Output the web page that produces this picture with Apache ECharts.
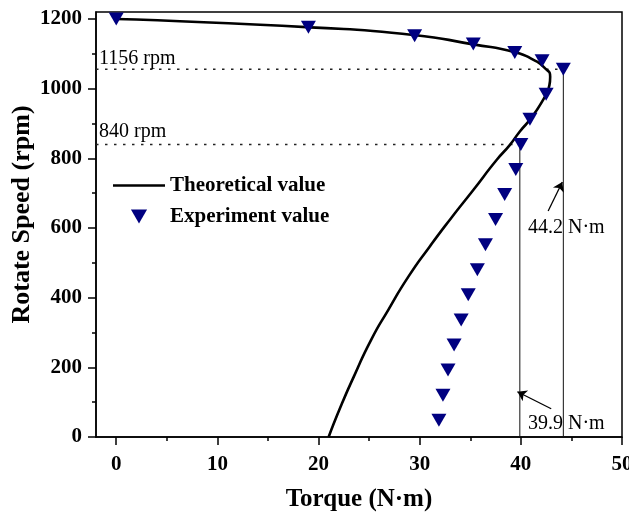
<!DOCTYPE html>
<html>
<head>
<meta charset="utf-8">
<script src="https://cdn.jsdelivr.net/npm/echarts@6/dist/echarts.min.js"></script>
<style>
  html, body { margin: 0; padding: 0; background: #fff; }
  #chart { width: 629px; height: 512px; }
</style>
</head>
<body>
<div id="chart"></div>
<script>
// axis ticks
const xLabels = [0, 10, 20, 30, 40, 50]
const xMinor = [5, 15, 25, 35, 45]
const yLabels = [0, 200, 400, 600, 800, 1000, 1200]
const yMinor = [100, 300, 500, 700, 900, 1100]

// theoretical curve [torque, speed]
const theoryTorque = [0, 19.2, 29.4, 35.3, 39.5, 41.3, 42.3, 42.9, 42.75, 42.2, 41.0, 39.9, 38.9, 37.6, 35.3, 33.1, 31.0, 28.9, 26.9, 25.2, 23.5, 22.2, 21.0]
const theorySpeed = [1200, 1176, 1154, 1127, 1104, 1082, 1061, 1034, 1001, 968, 915, 877, 838, 795, 709, 628, 547, 461, 365, 279, 174, 88, 0]

// experiment points [torque, speed]
const expTorque = [0, 19.0, 29.5, 35.3, 39.4, 42.1, 44.2, 42.5, 40.9, 40.0, 39.5, 38.4, 37.5, 36.5, 35.7, 34.8, 34.1, 33.4, 32.8, 32.3, 31.9]
const expSpeed = [1200, 1176, 1152, 1128, 1104, 1080, 1056, 984, 912, 840, 768, 696, 624, 552, 480, 408, 336, 264, 192, 120, 48]

// annotations
const speedMarks = [1056, 840]
const speedMarkTorque = [44.2, 39.9]
const speedMarkText = ['1156 rpm', '840 rpm']
const torqueMarkText = ['44.2 N·m', '39.9 N·m']
const arrow442 = [[42.7, 649], [44.1, 732]]
const arrow399 = [[43.0, 81], [39.66, 130]]

const zip = (a, b) => a.map((v, i) => [v, b[i]])
const font = 'Liberation Serif'
const plain = (v) => String(v)

const chart = echarts.init(document.getElementById('chart'))

const guideSeries = []
speedMarks.forEach((s, i) => {
  // dotted speed line
  guideSeries.push({
    type: 'line', silent: true, symbol: 'none',
    data: [[-2, s], [speedMarkTorque[i], s]],
    lineStyle: { color: '#222', width: 1.5, type: [2.5, 6.5] },
    z: 1,
  })
  // vertical torque line
  guideSeries.push({
    type: 'line', silent: true, symbol: 'none',
    data: [[speedMarkTorque[i], 0], [speedMarkTorque[i], s]],
    lineStyle: { color: '#111', width: 1 },
    z: 1,
  })
})

chart.setOption({
  animation: false,
  grid: {
    show: true,
    left: 96,
    right: 7,
    top: 12,
    bottom: 75,
    outerBoundsMode: 'none',
    containLabel: false,
    borderColor: '#000',
    borderWidth: 1.5,
  },
  legend: {
    orient: 'vertical',
    left: 108,
    top: 170,
    itemWidth: 52,
    itemHeight: 14,
    itemGap: 10,
    symbolKeepAspect: true,
    textStyle: { fontFamily: font, fontWeight: 'bold', fontSize: 21, color: '#000' },
    data: [
      { name: 'Theoretical value', icon: 'path://M0,0L52,0L52,2.6L0,2.6Z' },
      { name: 'Experiment value', icon: 'path://M0,0L15,0L7.5,13Z' },
    ],
  },
  xAxis: [
    {
      type: 'value',
      min: -2,
      max: 50,
      position: 'bottom',
      name: 'Torque (N·m)',
      nameLocation: 'middle',
      nameGap: 50,
      nameTextStyle: { fontFamily: font, fontWeight: 'bold', fontSize: 25, color: '#000' },
      axisLine: { onZero: false, lineStyle: { color: '#000', width: 1.5 } },
      axisTick: { inside: false, length: 8, customValues: xLabels, lineStyle: { color: '#000', width: 1.5 } },
      axisLabel: {
        customValues: xLabels, margin: 17, formatter: plain,
        fontFamily: font, fontWeight: 'bold', fontSize: 21, color: '#000',
      },
      splitLine: { show: false },
    },
    {
      type: 'value',
      min: -2,
      max: 50,
      position: 'bottom',
      axisLine: { show: false, onZero: false },
      axisTick: { inside: false, length: 4, customValues: xMinor, lineStyle: { color: '#000', width: 1.5 } },
      axisLabel: { show: false },
      splitLine: { show: false },
    },
  ],
  yAxis: [
    {
      type: 'value',
      min: 0,
      max: 1220,
      position: 'left',
      name: 'Rotate Speed (rpm)',
      nameLocation: 'middle',
      nameGap: 61,
      nameMoveOverlap: false,
      nameTextStyle: { fontFamily: font, fontWeight: 'bold', fontSize: 26, color: '#000', padding: [0, 0, 0, 20] },
      axisLine: { onZero: false, lineStyle: { color: '#000', width: 1.5 } },
      axisTick: { inside: false, length: 8, customValues: yLabels, lineStyle: { color: '#000', width: 1.5 } },
      axisLabel: {
        customValues: yLabels, margin: 14, formatter: plain,
        fontFamily: font, fontWeight: 'bold', fontSize: 21, color: '#000',
      },
      splitLine: { show: false },
    },
    {
      type: 'value',
      min: 0,
      max: 1220,
      position: 'left',
      axisLine: { show: false, onZero: false },
      axisTick: { inside: false, length: 4, customValues: yMinor, lineStyle: { color: '#000', width: 1.5 } },
      axisLabel: { show: false },
      splitLine: { show: false },
    },
  ],
  series: [
    {
      name: 'Theoretical value',
      type: 'line',
      smooth: 0.6,
      symbol: 'none',
      color: '#000',
      lineStyle: { color: '#000', width: 2.6 },
      data: zip(theoryTorque, theorySpeed),
      z: 3,
    },
    {
      name: 'Experiment value',
      type: 'scatter',
      symbol: 'triangle',
      symbolRotate: 180,
      symbolSize: [15, 13],
      color: '#000080',
      itemStyle: { color: '#000080', opacity: 1 },
      data: zip(expTorque, expSpeed),
      z: 4,
    },
    ...guideSeries,
    {
      type: 'lines',
      coordinateSystem: 'cartesian2d',
      silent: true,
      symbol: ['none', 'arrow'],
      symbolSize: 9,
      lineStyle: { color: '#000', width: 1.3, opacity: 1 },
      data: [{ coords: arrow442 }, { coords: arrow399 }],
      z: 5,
    },
  ],
  graphic: [
    { type: 'text', left: 99, top: 49, style: { text: speedMarkText[0], font: '20px "Liberation Serif"', fill: '#000' } },
    { type: 'text', left: 99, top: 122, style: { text: speedMarkText[1], font: '20px "Liberation Serif"', fill: '#000' } },
    { type: 'text', left: 528, top: 218, style: { text: torqueMarkText[0], font: '20px "Liberation Serif"', fill: '#000' } },
    { type: 'text', left: 528, top: 414, style: { text: torqueMarkText[1], font: '20px "Liberation Serif"', fill: '#000' } },
  ],
})
</script>
</body>
</html>
